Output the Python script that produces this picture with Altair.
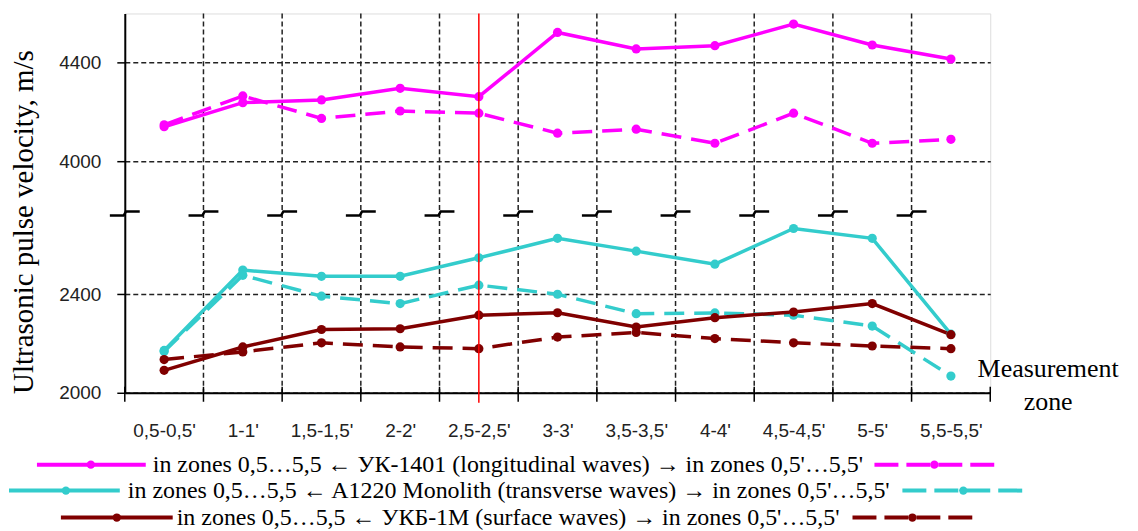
import altair as alt
import pandas as pd

# ---------------- data ----------------
zones = ["0,5-0,5'", "1-1'", "1,5-1,5'", "2-2'", "2,5-2,5'", "3-3'",
         "3,5-3,5'", "4-4'", "4,5-4,5'", "5-5'", "5,5-5,5'"]

instruments = ["УК-1401", "A1220 Monolith", "УКБ-1М"]
colors = ["#ff00ff", "#33cccc", "#800000"]

# zones 0,5 ... 5,5 (solid) and zones 0,5' ... 5,5' (dashed)
uk1401_main = [4140, 4238, 4249, 4296, 4262, 4523, 4456, 4469, 4557, 4472, 4415]
uk1401_prime = [4148, 4265, 4174, 4204, 4195, 4114, 4130, 4073, 4195, 4073, 4089]
a1220_main = [2172, 2498, 2473, 2473, 2548, 2627, 2575, 2522, 2667, 2627, 2238]
a1220_prime = [2168, 2477, 2392, 2362, 2437, 2400, 2321, 2324, 2315, 2271, 2068]
ukb_main = [2091, 2186, 2257, 2260, 2315, 2325, 2267, 2305, 2328, 2362, 2236]
ukb_prime = [2135, 2166, 2203, 2186, 2179, 2226, 2245, 2220, 2203, 2190, 2179]

y_ticks = [2000, 2400, 4000, 4400]
marked_zone = "2,5-2,5'"

legend_texts = [
    "in zones 0,5…5,5 ← УК-1401 (longitudinal waves) → in zones 0,5'…5,5'",
    "in zones 0,5…5,5 ← A1220 Monolith (transverse waves) → in zones 0,5'…5,5'",
    "in zones 0,5…5,5 ← УКБ-1М (surface waves) → in zones 0,5'…5,5'",
]
y_title = "Ultrasonic pulse velocity, m/s"
x_title = ["Measurement", "zone"]

# ---------------- axis break ----------------
BREAK_SHIFT = 1060          # the gap removed between 2727 and 3787
BREAK_AT = 2727.6           # display value where the axis is broken
Y_DOMAIN = [2000, 3540]
X_DOMAIN = [-0.5, len(zones) - 0.5]

rows = []
series = {
    ("УК-1401", "main"): uk1401_main, ("УК-1401", "prime"): uk1401_prime,
    ("A1220 Monolith", "main"): a1220_main, ("A1220 Monolith", "prime"): a1220_prime,
    ("УКБ-1М", "main"): ukb_main, ("УКБ-1М", "prime"): ukb_prime,
}
for (inst, kind), vals in series.items():
    for i, v in enumerate(vals):
        rows.append({"idx": i, "zone": zones[i], "value": v, "instrument": inst, "kind": kind})
df = pd.DataFrame(rows)

boundaries = pd.DataFrame({"b": [i + 0.5 for i in range(len(zones) - 1)]})
tick_pos = pd.DataFrame({"b": [i - 0.5 for i in range(len(zones) + 1)]})
break_rows = []
for i in range(len(zones)):
    for part in range(4):
        break_rows.append({"b": i - 0.5, "part": part})
breaks = pd.DataFrame(break_rows)
red = pd.DataFrame({"idx": [zones.index(marked_zone)]})

xs = alt.Scale(domain=X_DOMAIN, nice=False, zero=False)
ys = alt.Scale(domain=Y_DOMAIN, nice=False, zero=False)
disp_ticks = [t - BREAK_SHIFT if t > 3000 else t for t in y_ticks]
color = alt.Color("instrument:N", scale=alt.Scale(domain=instruments, range=colors), legend=None)

label_expr = "[" + ",".join('"%s"' % z.replace('"', '\\"') for z in zones) + "][datum.value]"

base = alt.Chart(df).transform_calculate(
    disp=f"datum.value > 3000 ? datum.value - {BREAK_SHIFT} : datum.value"
)

x_enc = alt.X("idx:Q", scale=xs, axis=alt.Axis(
    values=list(range(len(zones))), labelExpr=label_expr, ticks=False, tickSize=0,
    grid=False, title=None, labelPadding=29, labelFont="Liberation Sans",
    labelFontSize=19, labelColor="#222", domainColor="#000", domainWidth=2,
    labelBaseline="top"))
y_enc = alt.Y("disp:Q", scale=ys, axis=alt.Axis(
    values=disp_ticks,
    labelExpr=f"datum.value > 2700 ? datum.value + {BREAK_SHIFT} : datum.value",
    grid=True, gridDash=[5, 3], gridColor="#222", gridWidth=1.5,
    tickSize=8, tickColor="#000", tickWidth=1.5, domainColor="#000", domainWidth=2,
    labelPadding=16, labelFont="Liberation Sans", labelFontSize=19, labelColor="#222",
    title=None))

vgrid = alt.Chart(boundaries).mark_rule(color="#222", strokeWidth=1.5, strokeDash=[5, 3]).encode(
    x=alt.X("b:Q", scale=xs))

dashed = base.transform_filter("datum.kind == 'prime'").mark_line(
    strokeWidth=3.5, strokeDash=[20, 10]).encode(x=x_enc, y=y_enc, color=color, detail="instrument:N")
solid = base.transform_filter("datum.kind == 'main'").mark_line(
    strokeWidth=3.5).encode(x=x_enc, y=y_enc, color=color, detail="instrument:N")
dots = base.mark_circle(size=85, opacity=1).encode(x=x_enc, y=y_enc, color=color)

red_line = alt.Chart(red).mark_rule(color="#ff0000", strokeWidth=1.5).encode(
    x=alt.X("idx:Q", scale=xs), y=alt.value(0), y2=alt.value(390))

break_marks = alt.Chart(breaks).transform_calculate(
    bx="datum.b + [-0.19, -0.015, 0.015, 0.19][datum.part]",
    by=f"{BREAK_AT} + [-8, -8, 8, 8][datum.part]",
).mark_line(color="#000", strokeWidth=2.5).encode(
    x=alt.X("bx:Q", scale=xs), y=alt.Y("by:Q", scale=ys), detail="b:N", order="part:Q")

x_ticks = alt.Chart(tick_pos).mark_rule(color="#000", strokeWidth=1.5).encode(
    x=alt.X("b:Q", scale=xs), y=alt.value(374), y2=alt.value(389))

one = alt.Data(values=[{}])
texts = []
texts.append(alt.Chart(one).mark_text(font="Liberation Serif", fontSize=29, angle=270,
                                      align="center", baseline="middle", color="#000").encode(
    x=alt.value(-101), y=alt.value(209), text=alt.value(y_title)))
texts.append(alt.Chart(one).mark_text(font="Liberation Serif", fontSize=26,
                                      align="center", baseline="alphabetic", color="#000").encode(
    x=alt.value(925), y=alt.value(364), text=alt.value(x_title[0])))
texts.append(alt.Chart(one).mark_text(font="Liberation Serif", fontSize=26,
                                      align="center", baseline="alphabetic", color="#000").encode(
    x=alt.value(925), y=alt.value(397), text=alt.value(x_title[1])))

# legend rows: (y, left sample x1, x2, dot, text x, right sample x1, x2, dot)
legend_layout = [
    (452, -88, 21, -34, 28, 751, 875, 811),
    (478, -116, -5, -59, 3, 779, 903, 840),
    (505, -64, 48, -8, 52, 729, 851, 789),
]
legend_layers = []
for (ly, l1, l2, ld, tx, r1, r2, rd), txt, col in zip(legend_layout, legend_texts, colors):
    legend_layers.append(alt.Chart(one).mark_rule(color=col, strokeWidth=4).encode(
        x=alt.value(l1), x2=alt.value(l2), y=alt.value(ly)))
    legend_layers.append(alt.Chart(one).mark_rule(color=col, strokeWidth=4, strokeDash=[24, 8]).encode(
        x=alt.value(r1), x2=alt.value(r2), y=alt.value(ly)))
    legend_layers.append(alt.Chart(one).mark_circle(color=col, size=70, opacity=1).encode(
        x=alt.value(ld), y=alt.value(ly)))
    legend_layers.append(alt.Chart(one).mark_circle(color=col, size=70, opacity=1).encode(
        x=alt.value(rd), y=alt.value(ly)))
    legend_layers.append(alt.Chart(one).mark_text(font="Liberation Serif", fontSize=24,
                                                  align="left", baseline="middle", color="#000").encode(
        x=alt.value(tx), y=alt.value(ly), text=alt.value(txt)))

chart = alt.layer(
    vgrid, dashed, solid, dots, red_line, break_marks, x_ticks, *texts, *legend_layers
).properties(
    width=867, height=380,
    padding={"left": 117, "top": 5, "right": 140, "bottom": 138},
    autosize=alt.AutoSizeParams(type="none"),
).configure_view(stroke=None).configure(background="white")

chart.save("out.html", embed_options={"renderer": "svg", "actions": False})
